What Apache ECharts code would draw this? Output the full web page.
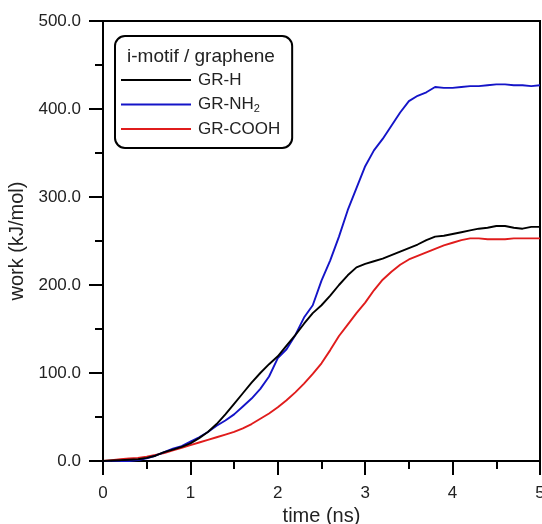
<!DOCTYPE html>
<html>
<head>
<meta charset="utf-8">
<script src="https://cdn.jsdelivr.net/npm/echarts@6/dist/echarts.min.js"></script>
<style>
html,body{margin:0;padding:0;background:#fff;}
#c{width:542px;height:524px;}
</style>
</head>
<body>
<div id="c"></div>
<script>
var time = [0,0.1,0.2,0.3,0.4,0.5,0.6,0.7,0.8,0.9,1.0,1.1,1.2,1.3,1.4,1.5,1.6,1.7,1.8,1.9,2.0,2.1,2.2,2.3,2.4,2.5,2.6,2.7,2.8,2.9,3.0,3.1,3.2,3.3,3.4,3.5,3.6,3.7,3.8,3.9,4.0,4.1,4.2,4.3,4.4,4.5,4.6,4.7,4.8,4.9,5.0];
var grH = [0,0.5,1,1.5,2,3.5,6,10,13,16,20,26,33,42,53,65,77,89,100,110,119,131,143,156,168,177,188,200,211,220,224,227,230,234,238,242,246,251,255,256,258,260,262,264,265,267,267,265,264,266,266];
var grNH2 = [0,-1.5,-1,0,1,3,6,10,14,17,22,27,33,40,46,53,62,71,82,96,117,127,143,163,177,205,228,255,285,310,335,353,366,381,396,409,415,419,425,424,424,425,426,426,427,428,428,427,427,426,427];
var grCOOH = [0,1,2,3,3.5,5,7,9,12,15,18,21,24,27,30,33,37,42,48,54,61,69,78,88,99,111,126,142,155,168,180,194,206,215,223,229,233,237,241,245,248,251,253,253,252,252,252,253,253,253,253];
var seriesNames = ['GR-H','GR-NH2','GR-COOH'];
var seriesColors = ['#000000','#1414c8','#e01c1c'];
var legendTitle = 'i-motif / graphene';
var xName = 'time (ns)';
var yName = 'work (kJ/mol)';

function pairs(v){ return time.map(function(t,i){ return [t, v[i]]; }); }
var values = [grH, grNH2, grCOOH];
var FONT = 'Liberation Sans, Arial, sans-serif';

var chart = echarts.init(document.getElementById('c'));
chart.setOption({
  animation: false,
  backgroundColor: '#fff',
  grid: {left: 103, top: 21, right: 2, bottom: 63, show: true, borderColor: '#000', borderWidth: 2,
    backgroundColor: 'transparent', containLabel: false, outerBoundsMode: 'none'},
  xAxis: {
    type: 'value', min: 0, max: 5, interval: 1,
    name: xName, nameLocation: 'middle', nameGap: 40,
    nameTextStyle: {fontFamily: FONT, fontSize: 20, color: '#222'},
    axisLine: {show: true, lineStyle: {color: '#000', width: 2}},
    axisTick: {show: true, inside: false, length: 14, lineStyle: {color: '#000', width: 2}},
    minorTick: {show: true, splitNumber: 2, length: 8, lineStyle: {color: '#000', width: 2}},
    axisLabel: {fontFamily: FONT, fontSize: 17, color: '#222', margin: 24},
    splitLine: {show: false}
  },
  yAxis: {
    type: 'value', min: 0, max: 500, interval: 100,
    name: yName, nameLocation: 'middle', nameGap: 68, nameRotate: 90,
    nameTextStyle: {fontFamily: FONT, fontSize: 20, color: '#222'},
    axisLine: {show: true, lineStyle: {color: '#000', width: 2}},
    axisTick: {show: true, inside: false, length: 14, lineStyle: {color: '#000', width: 2}},
    minorTick: {show: true, splitNumber: 2, length: 8, lineStyle: {color: '#000', width: 2}},
    axisLabel: {fontFamily: FONT, fontSize: 17, color: '#222', margin: 22, formatter: function(v){ return v.toFixed(1); }},
    splitLine: {show: false}
  },
  legend: {
    left: 115, top: 36, orient: 'vertical',
    padding: [34, 12, 9, 6],
    backgroundColor: '#fff', borderColor: '#000', borderWidth: 2, borderRadius: 10,
    icon: 'rect', itemWidth: 70, itemHeight: 2, itemGap: 4.5,
    textStyle: {fontFamily: FONT, fontSize: 17, color: '#222', lineHeight: 20, padding: [0,0,0,2],
      rich: {a: {fontFamily: FONT, fontSize: 17, color: '#222'}, s: {fontFamily: FONT, fontSize: 11, color: '#222', padding: [9,0,0,0]}}},
    formatter: function(n){ if (n === 'GR-NH2') return '{a|GR-NH}{s|2}'; return n; },
    data: seriesNames
  },
  graphic: [{
    type: 'text', left: 127, top: 47, z: 100,
    style: {text: legendTitle, font: '19px ' + FONT, fill: '#222'}
  }],
  series: seriesNames.map(function(n, i){
    return {name: n, type: 'line', data: pairs(values[i]), showSymbol: false, symbol: 'none',
      lineStyle: {color: seriesColors[i], width: 1.9}, itemStyle: {color: seriesColors[i]}, z: 3 - i};
  })
});
</script>
</body>
</html>
